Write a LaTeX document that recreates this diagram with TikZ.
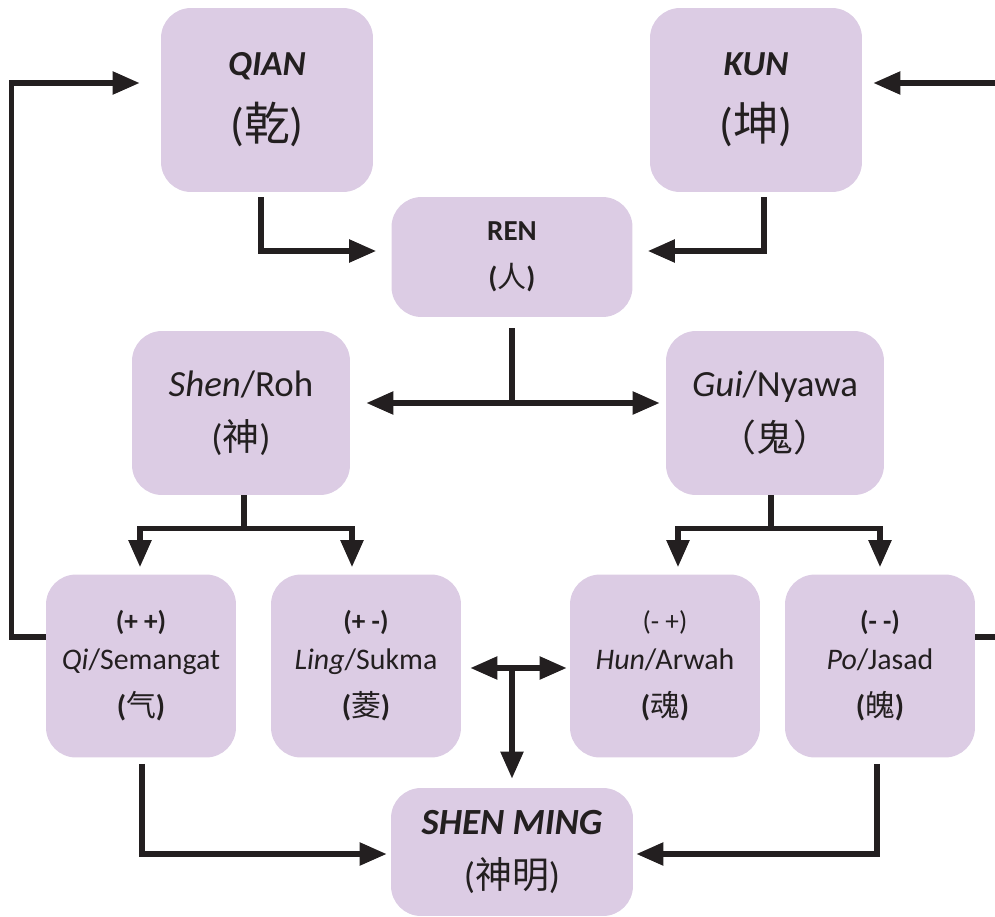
\documentclass[tikz,border=0pt]{standalone}
\usepackage{fontspec}
\setmainfont{Carlito}
\newfontfamily\cjk{Noto Sans CJK SC}
\newcommand{\hanzi}[1]{{\cjk\mdseries\upshape #1}}
\usetikzlibrary{calc}
\usetikzlibrary{arrows.meta}
\definecolor{lilac}{RGB}{220,204,228}
\definecolor{ink}{RGB}{35,31,32}

\begin{document}
\begin{tikzpicture}[x=0.02cm, y=-0.02cm,
  box/.style={fill=lilac, rounded corners=0.6cm, inner sep=0pt, align=center, text=ink},
  big/.style={box, minimum width=4.24cm, minimum height=3.68cm, font=\fontsize{20}{37}\selectfont},
  mid/.style={box, minimum width=4.36cm, minimum height=3.28cm, font=\fontsize{21}{31}\selectfont},
  small/.style={box, minimum width=3.8cm, minimum height=3.66cm, font=\fontsize{17}{22}\selectfont},
  link/.style={draw=ink, line width=3pt},
  arr/.style={link, -{Triangle[length=5.4mm, width=4.4mm]}},
  arrs/.style={link, {Triangle[length=5.4mm, width=4.4mm]}-{Triangle[length=5.4mm, width=4.4mm]}}]
\useasboundingbox (0,0) rectangle (995,917);

\node[big] (qian) at (267,100) {{\bfseries\itshape QIAN}\\{\fontsize{26}{30}\selectfont(\hanzi{乾})}};
\node[big] (kun) at (756,100) {{\bfseries\itshape KUN}\\{\fontsize{26}{30}\selectfont(\hanzi{坤})}};
\node[box, minimum width=4.82cm, minimum height=2.4cm, font=\fontsize{16.5}{27}\selectfont\bfseries] (ren) at (512,257) {REN\\(\hanzi{人})};
\node[mid] (shen) at (241,413) {{\itshape Shen}/Roh\\(\hanzi{神})};
\node[mid] (gui) at (775,413) {{\itshape Gui}/Nyawa\\\hanzi{（鬼）}};
\node[small] (qi) at (141,666) {{\fontsize{15.5}{22}\selectfont\bfseries (+ +)}\\{\itshape Qi}/Semangat\\[5pt]{\bfseries(}\hanzi{气}{\bfseries)}};
\node[small] (ling) at (366,666) {{\fontsize{15.5}{22}\selectfont\bfseries (+ -)}\\{\itshape Ling}/Sukma\\[5pt]{\bfseries(}\hanzi{菱}{\bfseries)}};
\node[small] (hun) at (665,666) {{\fontsize{15.5}{22}\selectfont (- +)}\\{\itshape Hun}/Arwah\\[5pt]{\bfseries(}\hanzi{魂}{\bfseries)}};
\node[small] (po) at (880,666) {{\fontsize{15.5}{22}\selectfont\bfseries (- -)}\\{\itshape Po}/Jasad\\[5pt]{\bfseries(}\hanzi{魄}{\bfseries)}};
\node[box, minimum width=4.84cm, minimum height=2.56cm, font=\fontsize{21}{31}\selectfont] (ming) at (512,852) {{\bfseries\itshape SHEN MING}\\(\hanzi{神明})};

\draw[arr] ($(qian.south)+(-6,5)$) |- ($(ren.west)+(-15,-6)$);
\draw[arr] ($(kun.south)+(8,5)$) |- ($(ren.east)+(15,-6)$);
\draw[arr] ($(qi.west)+(0,-29)$) -- ++(-34,0) |- ($(qian.west)+(-21,-17)$);
\draw[arr] ($(po.east)+(0,-29)$) -- ++(40,0) |- ($(kun.east)+(11,-17)$);

\draw[arrs] ($(shen.east)+(16,-10)$) coordinate (sl) -- ($(gui.west)+(-6,-10)$);
\draw[link] ($(ren.south)+(0,11)$) -- (ren.south |- sl);

\draw[link] ($(shen.south)+(3,0)$) -- ++(0,33) coordinate (sb);
\draw[link] ($(gui.south)+(-4,0)$) -- ++(0,33) coordinate (gb);
\foreach \from/\to/\dx in {sb/qi/-1, sb/ling/-14, gb/hun/13, gb/po/0}
  \draw[arr] (\from) -| ($(\to.north)+(\dx,-7)$);

\draw[arrs] ($(ling.east)+(9,2)$) -- ($(hun.west)+(-3,2)$);
\draw[arr] ($(ling.east -| ming.north)+(0,2)$) -- ($(ming.north)+(0,-9)$);
\draw[arr] ($(qi.south)+(1,6)$) |- ($(ming.west)+(-4,2)$);
\draw[arr] ($(po.south)+(-3,6)$) |- ($(ming.east)+(3,2)$);

\end{tikzpicture}
\end{document}
